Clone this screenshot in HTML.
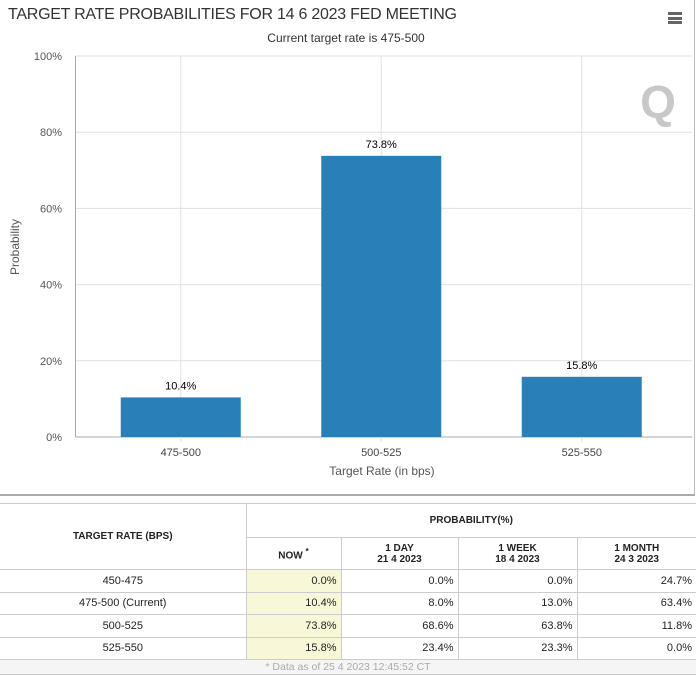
<!DOCTYPE html>
<html><head><meta charset="utf-8"><style>
body{margin:0;width:696px;height:676px;background:#fff;font-family:"Liberation Sans",sans-serif;overflow:hidden;position:relative}
#chart{position:absolute;left:0;top:0;width:694px;height:494px;border-right:1px solid #bbb;border-bottom:2px solid #aaa}
table{position:absolute;left:0;top:503px;width:696px;border-collapse:collapse;font-size:11px;color:#222}
td,th{border:1px solid #ccc;padding:0 4px;height:22.5px;box-sizing:border-box}
th{font-weight:bold;font-size:10px;background:#fff}
td.n{text-align:right}
td.c{text-align:center}
td.now{background:#f8f8d8}
tr.foot td{text-align:center;color:#aaa;background:#f5f5f5;height:15px;font-size:10.5px;border-left:none;border-right:none}
</style></head><body>
<div id="chart">
<svg id="svg" width="696" height="496" xmlns="http://www.w3.org/2000/svg"></svg>
</div>
<div style="position:absolute;left:668px;top:12px;width:14px;height:12px">
<div style="height:3px;background:#666;margin-bottom:1.5px"></div><div style="height:3px;background:#666;margin-bottom:1.5px"></div><div style="height:3px;background:#666"></div></div>
<table>
<tr style="height:34px"><th rowspan="2" style="width:246px;border-left:none">TARGET RATE (BPS)</th><th colspan="4" style="border-right:none;height:34px">PROBABILITY(%)</th></tr>
<tr style="height:32px"><th style="width:95px;height:32px">NOW <sup>*</sup></th><th style="width:117px">1 DAY<br>21 4 2023</th><th style="width:119px">1 WEEK<br>18 4 2023</th><th style="border-right:none">1 MONTH<br>24 3 2023</th></tr>
<tr><td class="c" style="border-left:none">450-475</td><td class="n now">0.0%</td><td class="n">0.0%</td><td class="n">0.0%</td><td class="n" style="border-right:none">24.7%</td></tr>
<tr><td class="c" style="border-left:none">475-500 (Current)</td><td class="n now">10.4%</td><td class="n">8.0%</td><td class="n">13.0%</td><td class="n" style="border-right:none">63.4%</td></tr>
<tr><td class="c" style="border-left:none">500-525</td><td class="n now">73.8%</td><td class="n">68.6%</td><td class="n">63.8%</td><td class="n" style="border-right:none">11.8%</td></tr>
<tr><td class="c" style="border-left:none">525-550</td><td class="n now">15.8%</td><td class="n">23.4%</td><td class="n">23.3%</td><td class="n" style="border-right:none">0.0%</td></tr>
<tr class="foot"><td colspan="5">* Data as of 25 4 2023 12:45:52 CT</td></tr>
</table>
<script>
const categories=["475-500","500-525","525-550"];
const values=[10.4,73.8,15.8];
const yTicks=[0,20,40,60,80,100];
const NS="http://www.w3.org/2000/svg";
const svg=document.getElementById('svg');
const L=75.5,R=692,T=56,B=437,catW=200.5,barW=120;
const y=v=>B-(B-T)*v/100;
const xc=i=>L+catW*(i+0.5)+5;
function mk(tag,at,txt){const e=document.createElementNS(NS,tag);for(const k in at)e.setAttribute(k,at[k]);if(txt!=null)e.textContent=txt;svg.appendChild(e);return e;}
let t=mk('text',{x:8,y:19,'font-size':16,fill:'#333',textLength:449},"TARGET RATE PROBABILITIES FOR 14 6 2023 FED MEETING");

t=mk('text',{x:346,y:42,'font-size':12,fill:'#333','text-anchor':'middle'},"Current target rate is 475-500");

yTicks.forEach(v=>{
 const g=mk('line',{x1:L,x2:R,y1:y(v),y2:y(v),stroke:v===0?'#aaa':'#e0e0e0','stroke-width':1});
 
 const l=mk('text',{x:62,y:y(v)+4,'font-size':11,fill:'#555','text-anchor':'end'},v+'%');
 
});
categories.forEach((c,i)=>{
 const g=mk('line',{x1:xc(i),x2:xc(i),y1:T,y2:B+5,stroke:'#e0e0e0'});
 
 const l=mk('text',{x:xc(i),y:B+19,'font-size':11,fill:'#444','text-anchor':'middle'},c);
 
});
let ax=mk('line',{x1:L,x2:L,y1:T,y2:B,stroke:'#aaa'});

values.forEach((v,i)=>{
 const b=mk('rect',{x:xc(i)-barW/2,y:y(v),width:barW,height:B-y(v),fill:'#2980b9'});
 
 const l=mk('text',{x:xc(i),y:y(v)-8,'font-size':11,fill:'#000','text-anchor':'middle'},v.toFixed(1)+'%');
 
});
t=mk('text',{x:382,y:475,'font-size':12,fill:'#555','text-anchor':'middle'},"Target Rate (in bps)");

t=mk('text',{x:19,y:247,'font-size':12,fill:'#555','text-anchor':'middle',transform:'rotate(-90 19 247)'},"Probability");

t=mk('text',{x:658,y:118,'font-size':46,'font-weight':'bold',fill:'#c8c8c8','text-anchor':'middle'},"Q");

</script>
</body></html>
